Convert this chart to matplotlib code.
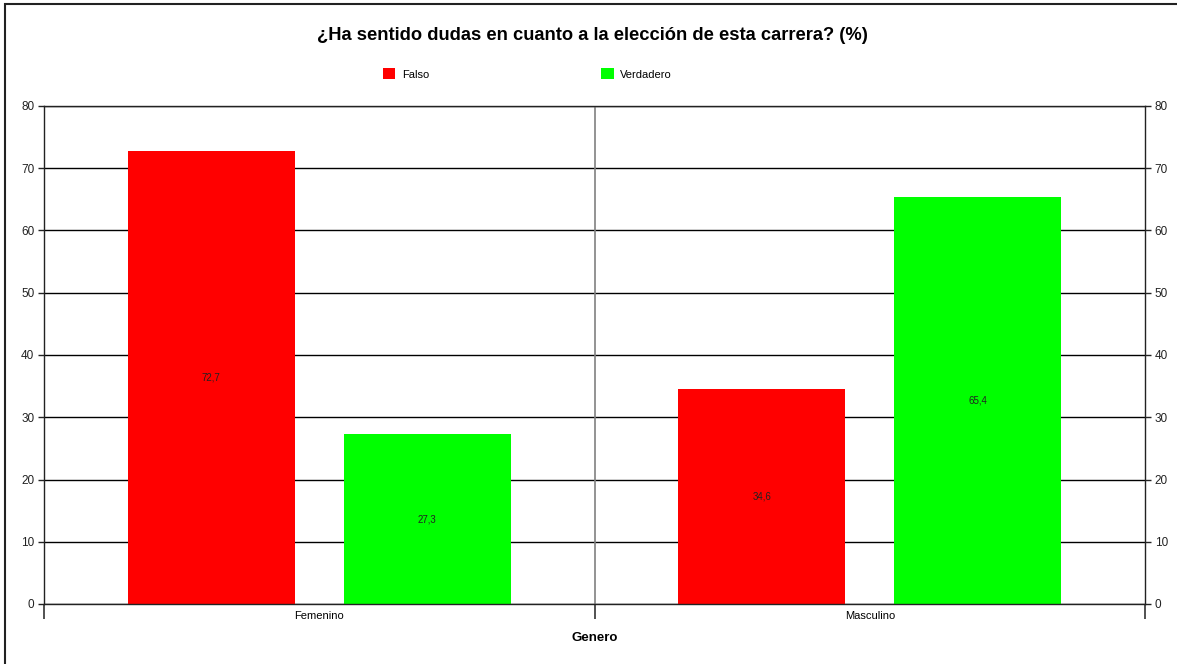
import matplotlib.pyplot as plt
import matplotlib.patches as patches
import numpy as np

plt.rcParams['font.family'] = ['Liberation Sans', 'DejaVu Sans']

# Data
categories = ["Femenino", "Masculino"]
series_names = ["Falso", "Verdadero"]
falso = [72.7, 34.6]
verdadero = [27.3, 65.4]
colors = ["#ff0000", "#00ff00"]

fig = plt.figure(figsize=(11.77, 6.64), dpi=100)
ax = fig.add_axes([44 / 1177, 1 - 604 / 664, 1101 / 1177, 0.75])

x = np.arange(len(categories))
width = 0.303
offset = 0.196

# horizontal grid lines and the category divider
for v in range(0, 90, 10):
    ax.axhline(v, color="black", lw=1, zorder=1)
ax.axvline(0.5, color="#808080", lw=1.2, zorder=1)

for vals, name, col, sign in [(falso, series_names[0], colors[0], -1),
                              (verdadero, series_names[1], colors[1], 1)]:
    bars = ax.bar(x + sign * offset, vals, width, color=col, label=name, zorder=2)
    for b, v in zip(bars, vals):
        ax.text(b.get_x() + b.get_width() / 2, v / 2, f"{v:.1f}".replace(".", ","),
                ha="center", va="center", fontsize=7, color="#222222", zorder=3)

ax.set_xlim(-0.5, 1.5)
ax.set_ylim(0, 80)
ax.set_yticks(range(0, 90, 10))
ax.tick_params(axis="y", length=4, width=1, labelsize=8.5, pad=3, colors="#222222")

# tick marks at group boundaries, labels at group centres
ax.set_xticks([-0.5, 0.5, 1.5])
ax.set_xticklabels([])
ax.tick_params(axis="x", which="major", length=11, width=1.2, color="#333333")
ax.set_xticks(x, minor=True)
ax.set_xticklabels(categories, minor=True, fontsize=8)
ax.tick_params(axis="x", which="minor", length=0, pad=5)

ax.set_xlabel("Genero", fontsize=9.5, fontweight="bold", labelpad=6)

for s in ax.spines.values():
    s.set_color("#222222")
    s.set_linewidth(1)

ax2 = ax.twinx()
ax2.set_ylim(0, 80)
ax2.set_yticks(range(0, 90, 10))
ax2.tick_params(axis="y", length=4, width=1, labelsize=8.5, pad=3, colors="#222222")
for s in ax2.spines.values():
    s.set_visible(False)

fig.text(592 / 1177, 1 - 36 / 664, "¿Ha sentido dudas en cuanto a la elección de esta carrera? (%)",
         ha="center", va="center", fontsize=13.2, fontweight="bold")

ax.legend(loc="center", bbox_to_anchor=(527.5 / 1177, 1 - 74 / 664),
          bbox_transform=fig.transFigure, ncol=2, frameon=False, fontsize=8,
          handlelength=1.1, handleheight=1.1, columnspacing=15.5, handletextpad=0.6)

fig.add_artist(patches.Rectangle((5 / 1177, -0.1), 1.2, 1.1 - 4 / 664,
                                 transform=fig.transFigure, fill=False,
                                 edgecolor="#222222", lw=1.5))

fig.savefig("out.png", dpi=100)
